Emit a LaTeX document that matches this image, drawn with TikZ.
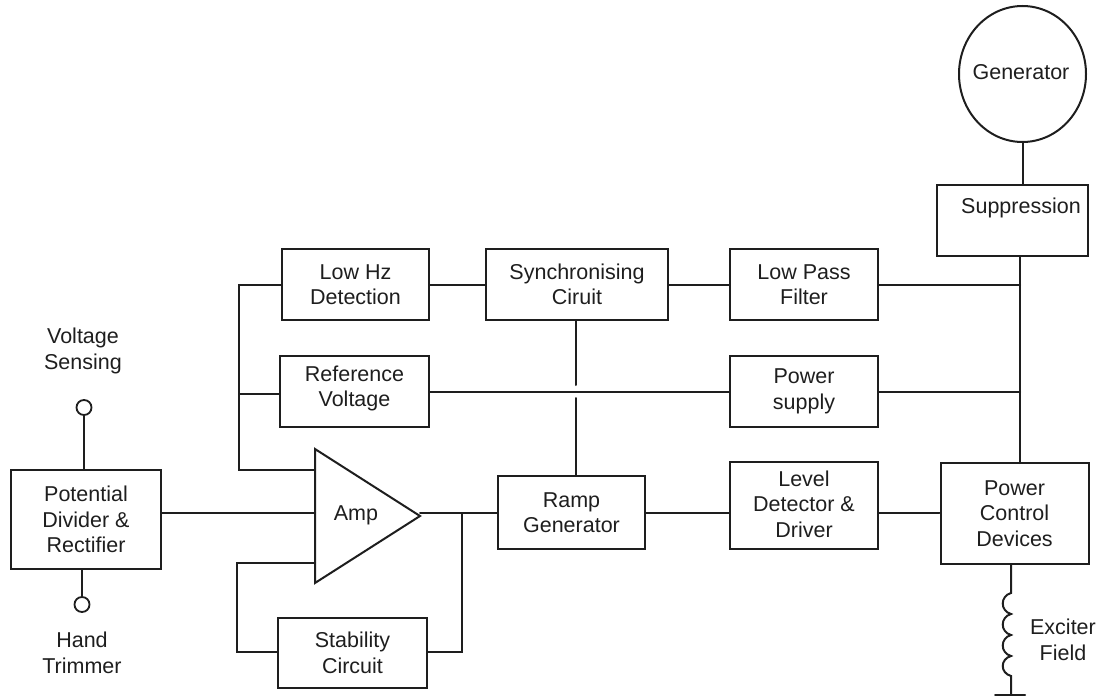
\documentclass[tikz,border=0pt]{standalone}
\usepackage{fontspec}
\setmainfont{Liberation Sans}
\usetikzlibrary{shapes.geometric,calc}
\definecolor{ink}{HTML}{1E1E1E}
\tikzset{
  blk/.style={draw=ink,line width=2pt,inner sep=0pt,align=center,font=\fontsize{21.5}{25.5}\selectfont,text=ink},
  lbl/.style={inner sep=0pt,align=center,font=\fontsize{21.5}{25.5}\selectfont,text=ink},
  wire/.style={draw=ink,line width=2pt,line cap=round,line join=miter},
  term/.style={circle,draw=ink,line width=1.8pt,inner sep=0pt,fill=white},
}
\begin{document}
\begin{tikzpicture}[x=1pt,y=-1pt]
\useasboundingbox (0,0) rectangle (1104,696);
% blocks
\node[blk,minimum width=150pt,minimum height=99pt] (pot) at (86,519.5) {Potential\\Divider \&\\Rectifier};
\node[blk,minimum width=147pt,minimum height=71pt] (lowhz) at (355.5,284.5) {Low Hz\\Detection};
\node[blk,minimum width=149pt,minimum height=71pt] (ref) at (354.5,391.5) {};
\node[lbl] (reftext) at (354.5,388.5) {Reference\\Voltage};
\node[blk,minimum width=149pt,minimum height=70pt] (stab) at (352.5,653) {Stability\\Circuit};
\node[blk,minimum width=182pt,minimum height=71pt] (sync) at (577,284.5) {Synchronising\\Ciruit};
\node[blk,minimum width=148pt,minimum height=71pt] (lpf) at (804,284.5) {Low Pass\\Filter};
\node[blk,minimum width=148pt,minimum height=71pt] (psu) at (804,391.5) {Power\\supply};
\node[blk,minimum width=147pt,minimum height=73pt] (ramp) at (571.5,512.5) {Ramp\\Generator};
\node[blk,minimum width=148pt,minimum height=87pt] (lvl) at (804,505.5) {};
\node[lbl] (lvltext) at (804,504) {Level\\Detector \&\\Driver};
\node[blk,minimum width=148pt,minimum height=101pt] (pcd) at (1014.5,513.5) {Power\\Control\\Devices};
\node[blk,minimum width=151pt,minimum height=71pt] (sup) at (1012.5,220.5) {};
\node[lbl] (suptext) at (1021,208) {Suppression};
\node[draw=ink,line width=2pt,ellipse,minimum width=127pt,minimum height=136pt,inner sep=0pt] (gen) at (1022.5,74) {};
\node[lbl] (gentext) at (1021,72) {Generator};
% amplifier
\coordinate (ampt) at (315,449);
\coordinate (ampb) at (315,583);
\coordinate (ampo) at (420,516);
\draw[wire] (ampt) -- (ampo) -- (ampb) -- cycle;
\node[lbl] (amp) at (356,515) {Amp};
\coordinate (ampin) at (315,513);
\coordinate (amptop) at (315,470);
\coordinate (ampbot) at (315,563);
\coordinate (out) at (420,513);
% terminals and labels
\node[lbl] (vs) at (83,351) {Voltage\\Sensing};
\node[lbl] (ht) at (82,653) {Hand\\Trimmer};
\node[term,minimum size=15pt] (tv) at (84,407.5) {};
\node[term,minimum size=15pt] (th) at (82,604.5) {};
\node[lbl] (ex) at (1063,640) {Exciter\\Field};
% connectors
\draw[wire] (tv) -- (tv |- pot.north);
\draw[wire] (th) -- (th |- pot.south);
\draw[wire] (pot.east |- ampin) -- (ampin);
\draw[wire] (lowhz.west) -- (239,284.5) -- (239,470) -- (amptop);
\draw[wire] (ref.west |- 0,394) -- (239,394);
\draw[wire] (stab.west |- 0,652) -- (237,652) -- (237,563) -- (ampbot);
\draw[wire] (stab.east |- 0,652) -- (462,652) -- (462,513);
\draw[wire] (out) -- (ramp.west |- out);
\draw[wire] (lowhz.east) -- (sync.west);
\draw[wire] (sync.east) -- (lpf.west);
\draw[wire] (lpf.east) -- (1020,284.5);
\draw[wire] (ref.east) -- (psu.west);
\draw[wire] (psu.east) -- (1020,391.5);
\coordinate (gapa) at (576,385);
\coordinate (gapb) at (576,398);
\draw[wire] (sync.south -| gapa) -- (gapa);
\draw[wire] (gapb) -- (ramp.north -| gapb);
\draw[wire] (ramp.east |- 0,512.5) -- (lvl.west |- 0,512.5);
\draw[wire] (lvl.east |- 0,513) -- (pcd.west |- 0,513);
\draw[wire] (gen.south) -- (gen.south |- sup.north);
\draw[wire] (1020,256) -- (1020,463);
% exciter coil
\coordinate (cl) at (1011,593);
\coordinate (gnd) at (1011,695);
\draw[wire] (pcd.south -| cl) -- (cl)
  .. controls (1000,596) and (1000,611) .. (1011,614)
  .. controls (1000,617) and (1000,632) .. (1011,635)
  .. controls (1000,638) and (1000,653) .. (1011,656)
  .. controls (1000,659) and (1000,673) .. (1011,676) -- (gnd);
\draw[wire] (995,695) -- (1025,695);
\end{tikzpicture}
\end{document}
